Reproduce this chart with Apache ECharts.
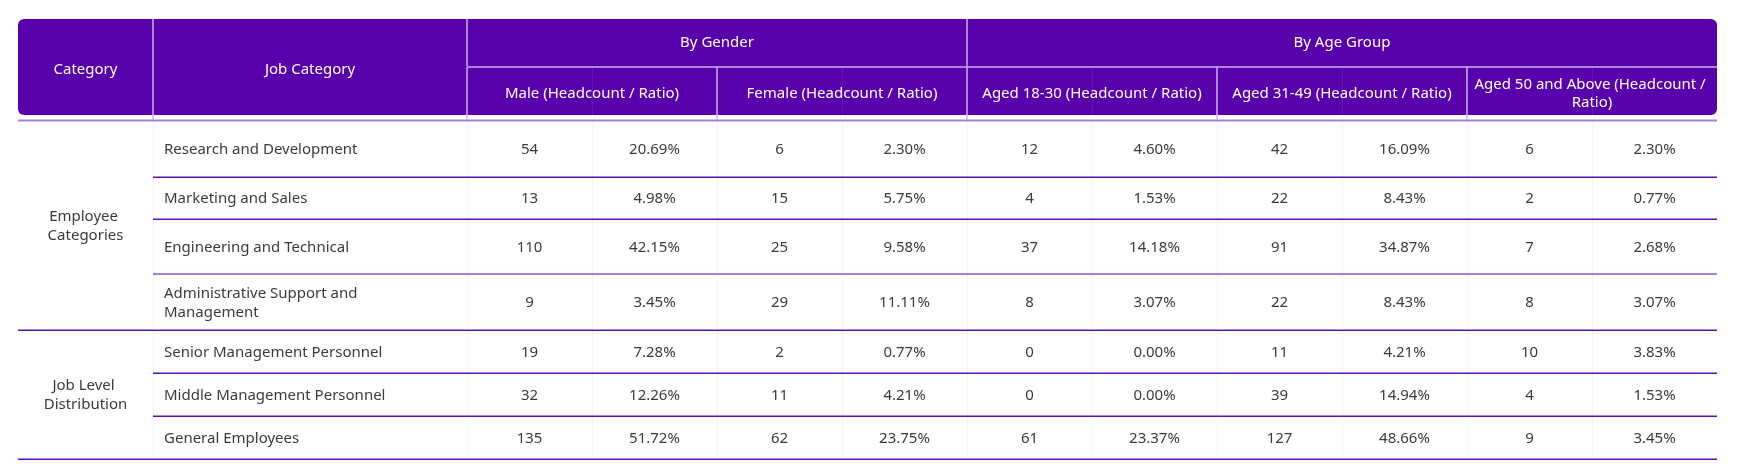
<!DOCTYPE html>
<html>
<head>
<meta charset="utf-8">
<script src="https://cdn.jsdelivr.net/npm/echarts@6/dist/echarts.min.js"></script>
<style>
html, body { margin: 0; padding: 0; background: #ffffff; }
#chart { width: 1741px; height: 475px; }
</style>
</head>
<body>
<div id="chart"></div>
<script>
// ---------------- data ----------------
var leftHeaders = ['Category', 'Job Category'];
var groupHeaders = ['By Gender', 'By Age Group'];
var subHeaders = [
  'Male (Headcount / Ratio)',
  'Female (Headcount / Ratio)',
  'Aged 18-30 (Headcount / Ratio)',
  'Aged 31-49 (Headcount / Ratio)',
  'Aged 50 and Above (Headcount / Ratio)'
];
var subHeaderGroup = [0, 0, 1, 1, 1];

var groups = ['Employee Categories', 'Job Level Distribution'];
var groupSizes = [4, 3];
var jobCategories = [
  'Research and Development',
  'Marketing and Sales',
  'Engineering and Technical',
  'Administrative Support and Management',
  'Senior Management Personnel',
  'Middle Management Personnel',
  'General Employees'
];

var maleCount = [54, 13, 110, 9, 19, 32, 135];
var malePct = [20.69, 4.98, 42.15, 3.45, 7.28, 12.26, 51.72];
var femaleCount = [6, 15, 25, 29, 2, 11, 62];
var femalePct = [2.30, 5.75, 9.58, 11.11, 0.77, 4.21, 23.75];
var age1830Count = [12, 4, 37, 8, 0, 0, 61];
var age1830Pct = [4.60, 1.53, 14.18, 3.07, 0.00, 0.00, 23.37];
var age3149Count = [42, 22, 91, 22, 11, 39, 127];
var age3149Pct = [16.09, 8.43, 34.87, 8.43, 4.21, 14.94, 48.66];
var age50Count = [6, 2, 7, 8, 10, 4, 9];
var age50Pct = [2.30, 0.77, 2.68, 3.07, 3.83, 1.53, 3.45];

var countSeries = [maleCount, femaleCount, age1830Count, age3149Count, age50Count];
var pctSeries = [malePct, femalePct, age1830Pct, age3149Pct, age50Pct];

// ---------------- layout & style ----------------
var colWidths = [135, 314, 125, 125, 125, 125, 125, 125, 125, 125, 125, 125];
var rowHeights = [48, 54, 56, 42, 55, 56, 43, 43, 43];
var headerRows = 2;
var headerInset = 6;
var highlightedRowLine = 2;

var FONT = '"Noto Sans", "Open Sans", sans-serif';
var HEADER_FONT_SIZE = 15;
var BODY_FONT_SIZE = 15;
var headerBg = '#5900ad';
var headerDivider = '#c7b3ec';
var accentLine = '#a582de';
var darkLine = '#5b10b2';
var faintLine = '#f6f3fa';
var bodyText = '#3b3b3b';

function cumulative(arr) {
  var out = [0];
  for (var i = 0; i < arr.length; i++) out.push(out[i] + arr[i]);
  return out;
}
var colEdges = cumulative(colWidths);
var rowEdges = cumulative(rowHeights);
var nCols = colWidths.length;
var nRows = rowHeights.length;

// ---------------- build cells ----------------
var headerCells = [];   // [c0, c1, r0, r1]
var headerTexts = [];
headerCells.push([0, 1, 0, 2]); headerTexts.push(leftHeaders[0]);
headerCells.push([1, 2, 0, 2]); headerTexts.push(leftHeaders[1]);
groupHeaders.forEach(function (g, gi) {
  var first = -1, last = -1;
  subHeaderGroup.forEach(function (v, k) { if (v === gi) { if (first < 0) first = k; last = k; } });
  headerCells.push([2 + 2 * first, 2 + 2 * (last + 1), 0, 1]);
  headerTexts.push(g);
});
subHeaders.forEach(function (s, k) {
  headerCells.push([2 + 2 * k, 4 + 2 * k, 1, 2]);
  headerTexts.push(s);
});

var bodyCells = [];   // [c0, c1, r0, r1, alignLeft]
var bodyTexts = [];
var rowStart = headerRows;
groups.forEach(function (g, gi) {
  bodyCells.push([0, 1, rowStart, rowStart + groupSizes[gi], 0]);
  bodyTexts.push(g);
  rowStart += groupSizes[gi];
});
jobCategories.forEach(function (j, i) {
  var r = headerRows + i;
  bodyCells.push([1, 2, r, r + 1, 1]);
  bodyTexts.push(j);
  for (var k = 0; k < countSeries.length; k++) {
    bodyCells.push([2 + 2 * k, 3 + 2 * k, r, r + 1, 0]);
    bodyTexts.push(String(countSeries[k][i]));
    bodyCells.push([3 + 2 * k, 4 + 2 * k, r, r + 1, 0]);
    bodyTexts.push(pctSeries[k][i].toFixed(2) + '%');
  }
});

// row bottom lines: [cStart, cEnd, rowEdgeIndex, highlight]
var rowLines = [];
var groupEnds = cumulative(groupSizes).slice(1);
jobCategories.forEach(function (j, i) {
  var isGroupEnd = groupEnds.indexOf(i + 1) >= 0;
  rowLines.push([isGroupEnd ? 0 : 1, nCols, headerRows + i + 1, i === highlightedRowLine ? 1 : 0]);
});
// faint vertical body lines
var vLines = [];
for (var c = 1; c < nCols; c++) vLines.push([c, headerRows, nRows]);

function rectOf(api, c0, c1, r0, r1) {
  var a = api.coord([colEdges[c0], rowEdges[r0]]);
  var b = api.coord([colEdges[c1], rowEdges[r1]]);
  return { x0: a[0], y0: a[1], x1: b[0], y1: b[1] };
}

var option = {
  animation: false,
  grid: { left: 18, top: 19, width: colEdges[nCols], height: rowEdges[nRows], containLabel: false, show: false },
  xAxis: { type: 'value', min: 0, max: colEdges[nCols], show: false },
  yAxis: { type: 'value', min: 0, max: rowEdges[nRows], inverse: true, show: false },
  series: [
    {
      type: 'custom', coordinateSystem: 'cartesian2d', silent: true, z: 1,
      data: [[0, nCols, 0, headerRows]],
      renderItem: function (params, api) {
        var R = rectOf(api, api.value(0), api.value(1), api.value(2), api.value(3));
        return {
          type: 'group',
          children: [
            { type: 'rect', shape: { x: R.x0, y: R.y0, width: R.x1 - R.x0, height: R.y1 - R.y0 - headerInset, r: 6 },
              style: { fill: headerBg } },
            { type: 'line', shape: { x1: R.x0, y1: R.y1 - 0.5, x2: R.x1, y2: R.y1 - 0.5 },
              style: { stroke: accentLine, lineWidth: 2 } }
          ]
        };
      }
    },
    {
      type: 'custom', coordinateSystem: 'cartesian2d', silent: true, z: 2,
      data: vLines,
      renderItem: function (params, api) {
        var c = api.value(0);
        var R = rectOf(api, c, c, api.value(1), api.value(2));
        var x = Math.round(R.x0) + 0.5;
        return { type: 'line', shape: { x1: x, y1: R.y0 + 2, x2: x, y2: R.y1 }, style: { stroke: faintLine, lineWidth: 1 } };
      }
    },
    {
      type: 'custom', coordinateSystem: 'cartesian2d', silent: true, z: 3,
      data: headerCells,
      renderItem: function (params, api) {
        var c0 = api.value(0), c1 = api.value(1), r0 = api.value(2), r1 = api.value(3);
        var R = rectOf(api, c0, c1, r0, r1);
        var children = [];
        if (c0 > 0) {
          var x = Math.round(R.x0);
          children.push({ type: 'line', shape: { x1: x, y1: R.y0, x2: x, y2: R.y1 - 1 },
            style: { stroke: headerDivider, lineWidth: 1.5 } });
        }
        if (r1 < headerRows) {
          var y = Math.round(R.y1);
          children.push({ type: 'line', shape: { x1: R.x0, y1: y, x2: R.x1, y2: y },
            style: { stroke: headerDivider, lineWidth: 1.5 } });
        }
        if (r0 >= 1 && c1 - c0 === 2) {
          var xm = Math.round(api.coord([colEdges[c0 + 1], 0])[0]) + 0.5;
          children.push({ type: 'line', shape: { x1: xm, y1: R.y0 + 1, x2: xm, y2: R.y1 - 1 },
            style: { stroke: 'rgba(255,255,255,0.08)', lineWidth: 1 } });
        }
        var yc = (R.y0 + R.y1) / 2;
        children.push({
          type: 'text',
          style: {
            text: headerTexts[params.dataIndex],
            x: (R.x0 + R.x1) / 2, y: yc,
            align: 'center', verticalAlign: 'middle',
            fill: '#ffffff', fontFamily: FONT, fontSize: HEADER_FONT_SIZE,
            width: R.x1 - R.x0 - 10, overflow: 'break', lineHeight: 18
          }
        });
        return { type: 'group', children: children };
      }
    },
    {
      type: 'custom', coordinateSystem: 'cartesian2d', silent: true, z: 4,
      data: rowLines,
      renderItem: function (params, api) {
        var hl = api.value(3) === 1;
        var R = rectOf(api, api.value(0), api.value(1), api.value(2), api.value(2));
        var y = Math.round(R.y0) + (hl ? 0 : 0.25);
        return { type: 'line', shape: { x1: R.x0, y1: y, x2: R.x1, y2: y },
          style: { stroke: hl ? accentLine : darkLine, lineWidth: hl ? 2 : 1.5 } };
      }
    },
    {
      type: 'custom', coordinateSystem: 'cartesian2d', silent: true, z: 5,
      data: bodyCells,
      renderItem: function (params, api) {
        var c0 = api.value(0), c1 = api.value(1), r0 = api.value(2), r1 = api.value(3);
        var left = api.value(4) === 1;
        var R = rectOf(api, c0, c1, r0, r1);
        return {
          type: 'text',
          style: {
            text: bodyTexts[params.dataIndex],
            x: left ? R.x0 + 11 : (R.x0 + R.x1) / 2,
            y: (R.y0 + R.y1) / 2 + 1,
            align: left ? 'left' : 'center', verticalAlign: 'middle',
            fill: bodyText, fontFamily: FONT, fontSize: BODY_FONT_SIZE,
            width: left ? 250 : (c0 === 0 ? 115 : R.x1 - R.x0 - 8),
            overflow: 'break', lineHeight: 19
          }
        };
      }
    }
  ]
};

var chart = echarts.init(document.getElementById('chart'));
chart.setOption(option);
</script>
</body>
</html>
